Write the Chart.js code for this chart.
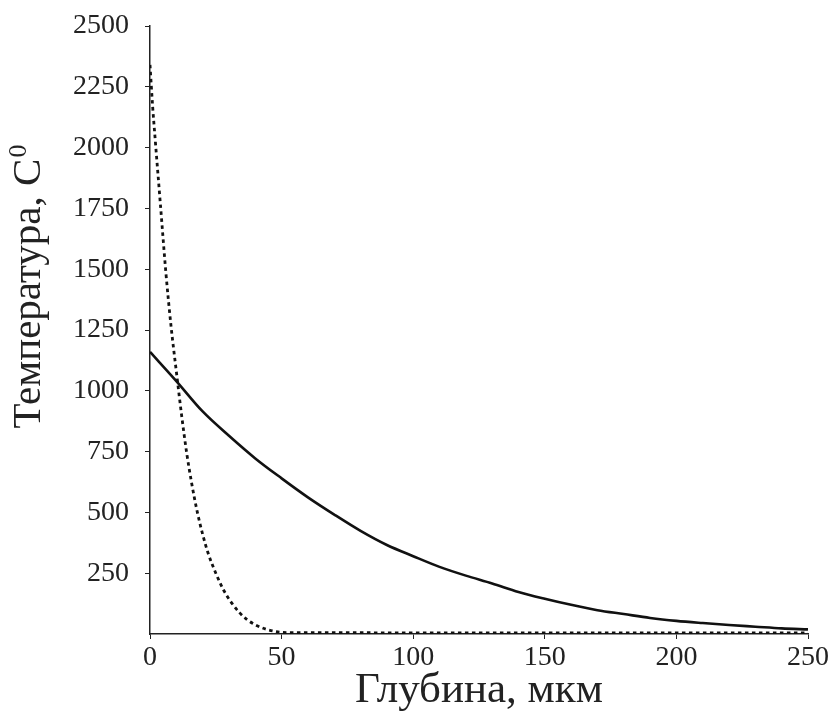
<!DOCTYPE html>
<html>
<head>
<meta charset="utf-8">
<script src="https://cdn.jsdelivr.net/npm/chart.js@4.4.1/dist/chart.umd.min.js"></script>
<style>
    html, body { margin: 0; padding: 0; background: #fff; }
    #wrap { width: 834px; height: 717px; }
</style>
</head>
<body>
<div id="wrap"><canvas id="myChart" width="834" height="717"></canvas></div>
<script>
// solid curve
const depthSolid = [0, 10, 20, 30, 40, 50, 60, 70, 80, 90, 100, 110, 120, 130, 140, 150, 160, 170, 180, 190, 200, 210, 220, 230, 240, 250];
const tempSolid = [1160, 1040, 915, 815, 722, 640, 562, 491, 424, 366, 320, 276, 240, 208, 173, 145, 120, 98, 82, 66, 54, 45, 37, 30, 23, 19];

// dotted curve
const depthDotted = [0, 1, 2, 4, 6, 8, 10, 12, 14, 16, 18, 20, 22, 25, 28, 31, 34, 37, 40, 44, 48, 52, 100, 150, 200, 250];
const tempDotted = [2340, 2170, 2030, 1760, 1490, 1265, 1080, 900, 740, 610, 500, 410, 335, 250, 180, 128, 88, 58, 38, 20, 10, 6, 5, 5, 5, 5];

const xTicks = [0, 50, 100, 150, 200, 250];
const yTicks = [250, 500, 750, 1000, 1250, 1500, 1750, 2000, 2250, 2500];

const toPoints = (xs, ys) => xs.map((x, i) => ({ x: x, y: ys[i] }));

const serif = "'Liberation Serif', 'Times New Roman', serif";

// y title drawn by hand so the small raised "0" looks like the original
const yTitle = {
    id: "yTitle",
    afterDraw: c => {
        const g = c.ctx;
        g.save();
        g.translate(40, 287);
        g.rotate(-Math.PI / 2);
        g.fillStyle = "#222";
        g.textBaseline = "alphabetic";
        const main = "Температура, С";
        g.font = "41px " + serif;
        const w = g.measureText(main).width;
        g.font = "26px " + serif;
        const w0 = g.measureText("0").width;
        const x0 = -(w + w0) / 2;
        g.font = "41px " + serif;
        g.fillText(main, x0, 0);
        g.font = "26px " + serif;
        g.fillText("0", x0 + w + 1, -14);
        g.restore();
    },
};

const ctx = document.getElementById("myChart").getContext("2d");
const chart = new Chart(ctx, {
    type: "line",
    data: {
        datasets: [
            {
                label: "solid",
                data: toPoints(depthSolid, tempSolid),
                borderColor: "#111",
                borderWidth: 2.6,
                pointRadius: 0,
                cubicInterpolationMode: "monotone",
            },
            {
                label: "dotted",
                data: toPoints(depthDotted, tempDotted),
                borderColor: "#111",
                borderWidth: 2.8,
                borderDash: [3.5, 3.5],
                pointRadius: 0,
                cubicInterpolationMode: "monotone",
            },
        ],
    },
    plugins: [yTitle],
    options: {
        responsive: false,
        animation: false,
        layout: { padding: { top: 26, right: 26, left: 0, bottom: 0 } },
        plugins: { legend: { display: false }, tooltip: { enabled: false } },
        scales: {
            x: {
                type: "linear",
                min: 0,
                max: 250,
                afterBuildTicks: axis => {
                    axis.ticks = xTicks.map(v => ({ value: v }));
                },
                afterFit: axis => {
                    axis.height = 83;
                    axis.paddingLeft = 0;
                    axis.paddingRight = 0;
                },
                border: { color: "#222", width: 1.5 },
                grid: { drawOnChartArea: false, tickLength: 5, color: "#222" },
                ticks: {
                    color: "#222",
                    font: { family: serif, size: 28 },
                    padding: 2,
                    maxRotation: 0,
                    callback: v => String(v),
                },
                title: {
                    display: true,
                    text: "Глубина, мкм",
                    color: "#222",
                    font: { family: serif, size: 43 },
                    padding: { top: 0, bottom: 0 },
                },
            },
            y: {
                min: 0,
                max: 2500,
                afterBuildTicks: axis => {
                    axis.ticks = yTicks.map(v => ({ value: v }));
                },
                afterFit: axis => {
                    axis.width = 150;
                    axis.paddingTop = 0;
                    axis.paddingBottom = 0;
                },
                border: { color: "#222", width: 1.5 },
                grid: { drawOnChartArea: false, tickLength: 5, color: "#222" },
                ticks: {
                    color: "#222",
                    font: { family: serif, size: 28 },
                    padding: 16,
                    callback: v => String(v),
                },
            },
        },
    },
});
</script>
</body>
</html>
